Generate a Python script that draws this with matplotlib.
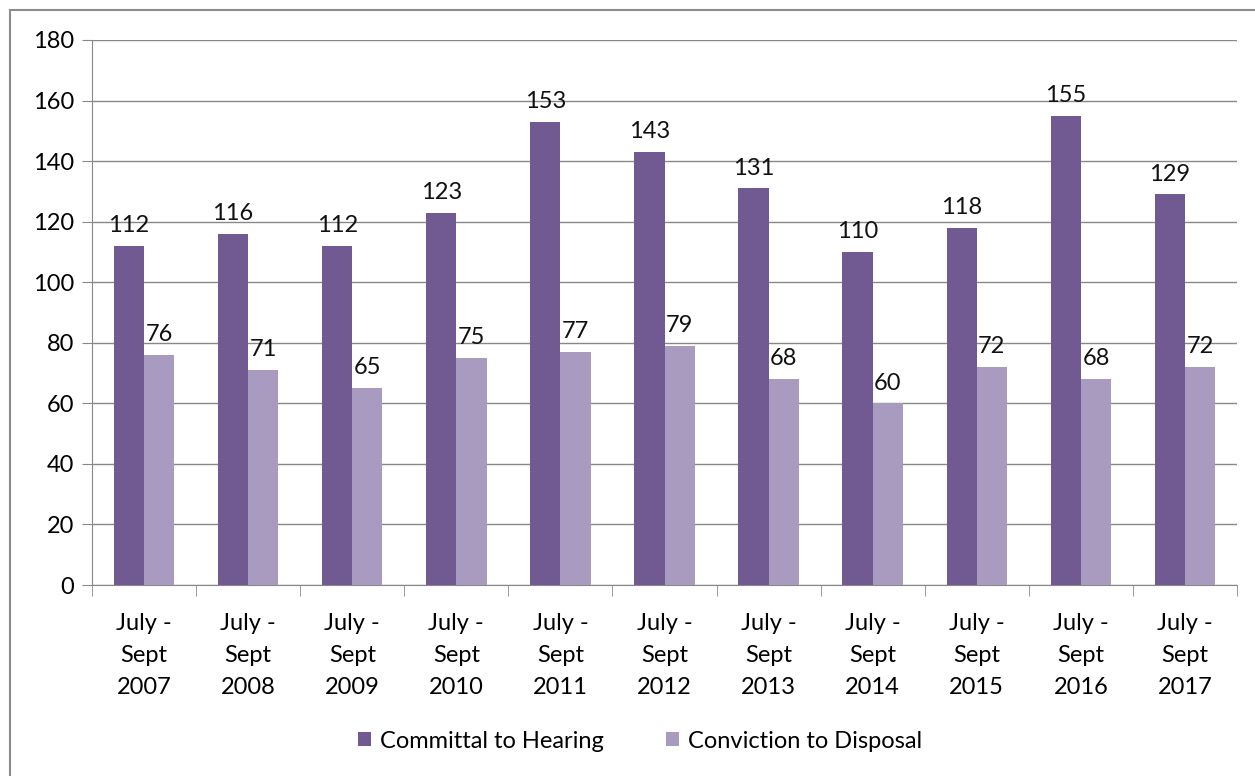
import numpy as np
import matplotlib.pyplot as plt
from matplotlib.patches import Rectangle

plt.rcParams['font.family'] = ['Lato', 'DejaVu Sans']

years = ['2007', '2008', '2009', '2010', '2011', '2012', '2013', '2014', '2015', '2016', '2017']
labels = ['July -\nSept\n' + y for y in years]
committal = [112, 116, 112, 123, 153, 143, 131, 110, 118, 155, 129]
conviction = [76, 71, 65, 75, 77, 79, 68, 60, 72, 68, 72]

dark = '#715A91'
light = '#A99BC0'
grid_col = '#888888'
fs = 17

fig = plt.figure(figsize=(12.55, 7.76), dpi=100)
ax = fig.add_axes([92/1255, 1-585/776, (1237-92)/1255, (585-40)/776])

# outer chart border
fig.patches.append(Rectangle((10/1255, -0.05), 1.2, 1 - 10/776 + 0.05, transform=fig.transFigure,
                             fill=False, edgecolor='#8c8c8c', linewidth=1.5))

x = np.arange(len(years))
w = 0.29
b1 = ax.bar(x - w/2, committal, w, color=dark, label='Committal to Hearing', zorder=3)
b2 = ax.bar(x + w/2, conviction, w, color=light, label='Conviction to Disposal', zorder=3)

for bars in (b1, b2):
    for r in bars:
        ax.annotate(str(int(r.get_height())), (r.get_x() + r.get_width()/2, r.get_height()),
                    xytext=(0, 7), textcoords='offset points', ha='center', va='bottom',
                    fontsize=fs, color='#111111')

ax.set_xlim(-0.5, len(years) - 0.5)
ax.set_ylim(0, 180)
ax.set_yticks(range(0, 181, 20))
ax.yaxis.grid(True, color=grid_col, linewidth=1, zorder=0)
ax.tick_params(axis='y', length=7, color=grid_col, labelsize=fs, pad=6)

ax.set_xticks(x)
ax.set_xticklabels(labels, fontsize=fs, linespacing=1.65)
ax.tick_params(axis='x', length=0, pad=20)
ax.set_xticks(np.arange(-0.5, len(years), 1), minor=True)
ax.tick_params(axis='x', which='minor', length=8, color=grid_col)

for s in ['top', 'right']:
    ax.spines[s].set_visible(False)
for s in ['left', 'bottom']:
    ax.spines[s].set_color(grid_col)

fig.legend(loc='center', bbox_to_anchor=(640/1255, 1-741/776), ncol=2, frameon=False,
           fontsize=fs, handlelength=0.55, handleheight=0.55, columnspacing=2.6, handletextpad=0.4)

fig.savefig('out.png', dpi=100)
